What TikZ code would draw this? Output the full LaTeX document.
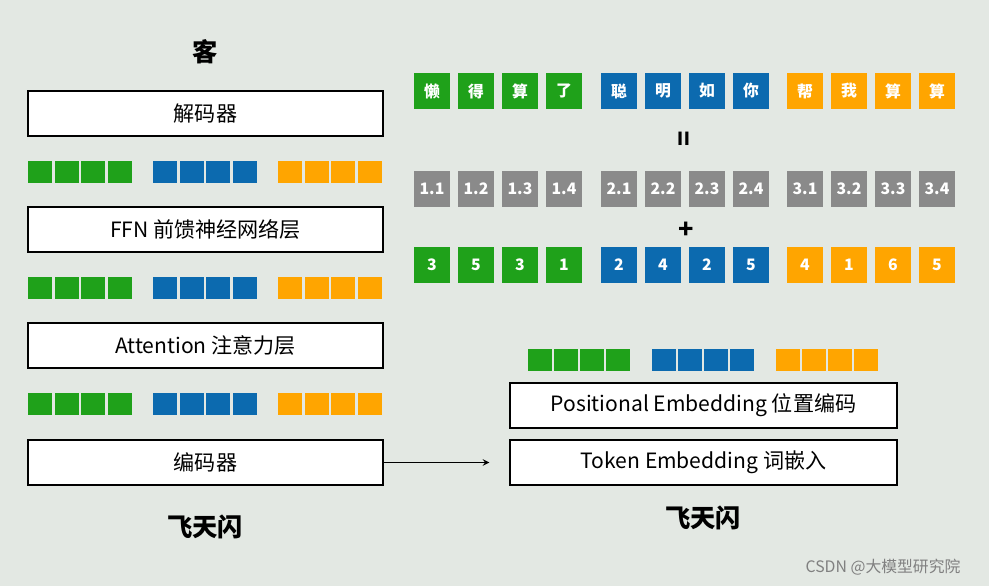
\documentclass[tikz,border=0pt]{standalone}
\usepackage{fontspec}
\setmainfont{Noto Sans CJK SC}
\usetikzlibrary{positioning}
\definecolor{bgc}{HTML}{E3E8E3}
\definecolor{tkgreen}{HTML}{1FA11A}
\definecolor{tkblue}{HTML}{0C6AAF}
\definecolor{tkorange}{HTML}{FFA500}
\definecolor{tkgray}{HTML}{8A8A8A}
\tikzset{
  sq/.style={minimum width=36*0.02cm, minimum height=36*0.02cm, inner sep=0pt, text=white, font=\bfseries\small},
  bar/.style={minimum width=24*0.02cm, minimum height=22*0.02cm, inner sep=0pt},
  layer/.style={draw=black, fill=white, line width=0.7pt, minimum width=355*0.02cm, minimum height=45*0.02cm, inner sep=0pt, font=\large},
}
\begin{document}
\begin{tikzpicture}[x=0.02cm, y=-0.02cm]
        \def\colA{tkgreen}
        \def\colB{tkblue}
        \def\colC{tkorange}
        \fill[bgc] (0,0) rectangle (989,586);
        \useasboundingbox (0,0) rectangle (989,586);

        % left stack
        \node[font=\Large\bfseries] (ke) at (205,52) {客};
        \node[layer] (dec) at (205.5,113.5) {解码器};
        \node[layer] (ffn) at (205.5,229.5) {FFN 前馈神经网络层};
        \node[layer] (att) at (205.5,345.5) {Attention 注意力层};
        \node[layer] (enc) at (205.5,462.5) {编码器};
        \node[font=\Large\bfseries] (fta) at (205,527) {飞天闪};
        \foreach \y in {172,288,404} {
          \foreach \g/\c/\x in {0/\colA/40, 1/\colB/165, 2/\colC/290} {
            \foreach \i in {0,...,3}
              \node[bar, fill=\c] (l-\y-\g-\i) at (\x+26.5*\i,\y) {};
          }
        }

        % right: tokens
        \foreach \t [count=\i from 0] in {懒,得,算,了} \node[sq, fill=\colA] (tk-a\i) at (432+44*\i,91) {\t};
        \foreach \t [count=\i from 0] in {聪,明,如,你} \node[sq, fill=\colB] (tk-b\i) at (619+44*\i,91) {\t};
        \foreach \t [count=\i from 0] in {帮,我,算,算} \node[sq, fill=\colC] (tk-c\i) at (805+44*\i,91) {\t};
        \node[font=\Large\bfseries, rotate=90] (eq) at (686,139) {=};
        \foreach \g/\x in {1/432,2/619,3/805} {
          \foreach \i in {1,...,4}
            \node[sq, fill=tkgray, font=\small\bfseries] (ps-\g\i) at (\x+44*\i-44,189) {\g.\i};
        }
        \node[font=\Large\bfseries] (pl) at (686,230) {+};
        \foreach \t [count=\i from 0] in {3,5,3,1} \node[sq, fill=\colA] (id-a\i) at (432+44*\i,265) {\t};
        \foreach \t [count=\i from 0] in {2,4,2,5} \node[sq, fill=\colB] (id-b\i) at (619+44*\i,265) {\t};
        \foreach \t [count=\i from 0] in {4,1,6,5} \node[sq, fill=\colC] (id-c\i) at (805+44*\i,265) {\t};

        % right: embeddings
        \foreach \g/\c/\x in {0/\colA/540, 1/\colB/664, 2/\colC/788} {
          \foreach \i in {0,...,3}
            \node[bar, fill=\c] (r-\g-\i) at (\x+26*\i,360) {};
        }
        \node[layer, minimum width=387*0.02cm] (pos) at (703.5,405.5) {Positional Embedding 位置编码};
        \node[layer, minimum width=387*0.02cm] (tok) at (703.5,462.5) {Token Embedding 词嵌入};
        \node[font=\Large\bfseries] (ftb) at (703,518) {飞天闪};
        \draw[-stealth, line width=0.7pt] (enc.east) -- ([xshift=-0.4cm]tok.west);

        \node[text=gray, font=\small] (wm) at (883,567) {CSDN @大模型研究院};
\end{tikzpicture}
\end{document}
